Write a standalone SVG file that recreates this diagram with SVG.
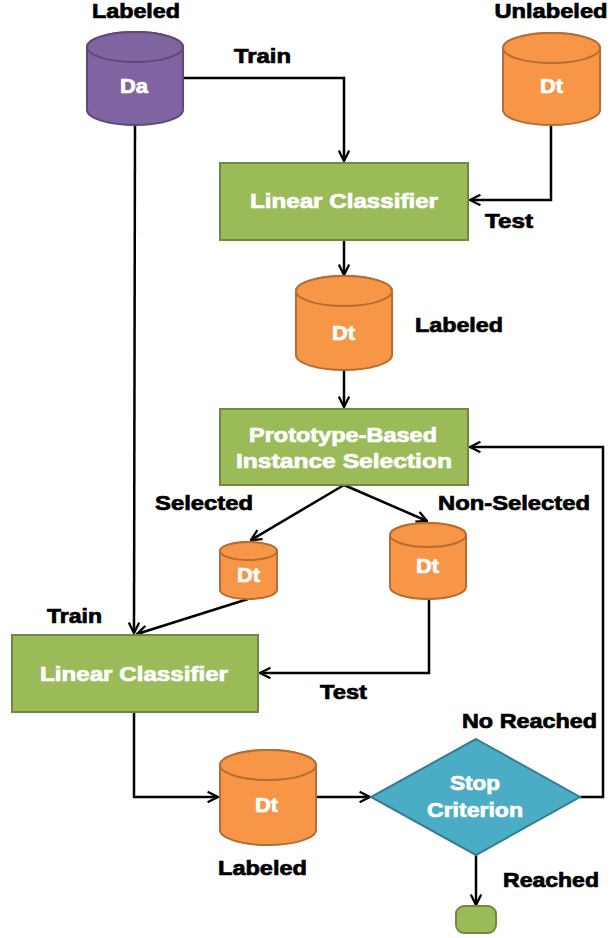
<svg xmlns="http://www.w3.org/2000/svg" width="610" height="938" viewBox="0 0 610 938">
<style>
text{font-family:"Liberation Sans",Arial,sans-serif;font-weight:bold;font-size:20px;text-anchor:middle;stroke-width:0.7px}
.lbl{fill:#000;stroke:#000}
.w{fill:#fff;stroke:#fff}
.or{fill:#F79646;stroke:#B66D31;stroke-width:2}
.pu{fill:#8064A2;stroke:#5C4A7A;stroke-width:2}
.gr{fill:#9BBB59;stroke:#71893F;stroke-width:2}
.te{fill:#4BACC6;stroke:#357D91;stroke-width:2}
.c{fill:none;stroke:#000;stroke-width:2.5;marker-end:url(#ar)}
</style>
<defs>
<marker id="ar" viewBox="0 0 12 12" refX="11" refY="6" markerWidth="5" markerHeight="5" markerUnits="strokeWidth" orient="auto">
<path d="M1,1 L11,6 L1,11" fill="none" stroke="#000" stroke-width="2.2"/>
</marker>
</defs>
<g id="connectors">
<polyline class="c" points="183,78 344,78 344,161"/>
<polyline class="c" points="551,125 551,200 470,200"/>
<line class="c" x1="344" y1="240" x2="344" y2="275"/>
<line class="c" x1="344" y1="370" x2="344" y2="407"/>
<line class="c" x1="344" y1="485" x2="251" y2="540"/>
<line class="c" x1="344" y1="485" x2="427" y2="521"/>
<line class="c" x1="135" y1="125" x2="134" y2="633"/>
<line class="c" x1="248" y1="599" x2="137" y2="634"/>
<polyline class="c" points="429,599 429,673 260,673"/>
<polyline class="c" points="134,712 134,797 218,797"/>
<line class="c" x1="316" y1="797" x2="370" y2="797"/>
<polyline class="c" points="580,797 603,797 603,447 470,447"/>
<line class="c" x1="476" y1="855" x2="476" y2="905"/>
</g>
<g id="da">
<path class="pu" d="M87,47 A48,15 0 0 1 183,47 V110 A48,15 0 0 1 87,110 Z"/>
<ellipse class="pu" cx="135" cy="47" rx="48" ry="15"/>
<text class="w" x="134" y="93" textLength="28" lengthAdjust="spacingAndGlyphs">Da</text>
<text class="lbl" x="136" y="18" textLength="88" lengthAdjust="spacingAndGlyphs">Labeled</text>
</g>
<g id="dt-unlabeled">
<path class="or" d="M503,48 A48.5,15 0 0 1 600,48 V110 A48.5,15 0 0 1 503,110 Z"/>
<ellipse class="or" cx="551.5" cy="48" rx="48.5" ry="15"/>
<text class="w" x="551.5" y="93" textLength="23" lengthAdjust="spacingAndGlyphs">Dt</text>
<text class="lbl" x="551" y="18" textLength="113" lengthAdjust="spacingAndGlyphs">Unlabeled</text>
</g>
<g id="lc1">
<rect class="gr" x="220" y="163" width="248" height="77"/>
<text class="w" x="344" y="208" textLength="188" lengthAdjust="spacingAndGlyphs">Linear Classifier</text>
</g>
<g id="dt-labeled">
<path class="or" d="M296,291 A48,15 0 0 1 392,291 V355 A48,15 0 0 1 296,355 Z"/>
<ellipse class="or" cx="344" cy="291" rx="48" ry="15"/>
<text class="w" x="343.5" y="340" textLength="23" lengthAdjust="spacingAndGlyphs">Dt</text>
<text class="lbl" x="459" y="332" textLength="88" lengthAdjust="spacingAndGlyphs">Labeled</text>
</g>
<g id="pbis">
<rect class="gr" x="220" y="409" width="248" height="76"/>
<text class="w" x="343" y="442" textLength="188" lengthAdjust="spacingAndGlyphs">Prototype-Based</text>
<text class="w" x="344" y="468" textLength="216" lengthAdjust="spacingAndGlyphs">Instance Selection</text>
</g>
<g id="dt-selected">
<path class="or" d="M220,551 A28.5,9 0 0 1 277,551 V590 A28.5,9 0 0 1 220,590 Z"/>
<ellipse class="or" cx="248.5" cy="551" rx="28.5" ry="9"/>
<text class="w" x="248.5" y="582" textLength="23" lengthAdjust="spacingAndGlyphs">Dt</text>
</g>
<g id="dt-nonselected">
<path class="or" d="M390,535 A38,12 0 0 1 466,535 V587 A38,12 0 0 1 390,587 Z"/>
<ellipse class="or" cx="428" cy="535" rx="38" ry="12"/>
<text class="w" x="427.5" y="573" textLength="23" lengthAdjust="spacingAndGlyphs">Dt</text>
</g>
<g id="lc2">
<rect class="gr" x="12" y="635" width="246" height="77"/>
<text class="w" x="134" y="681" textLength="188" lengthAdjust="spacingAndGlyphs">Linear Classifier</text>
</g>
<g id="dt-final">
<path class="or" d="M220,765 A48,15 0 0 1 316,765 V830 A48,15 0 0 1 220,830 Z"/>
<ellipse class="or" cx="268" cy="765" rx="48" ry="15"/>
<text class="w" x="266.5" y="812" textLength="23" lengthAdjust="spacingAndGlyphs">Dt</text>
<text class="lbl" x="262.5" y="875" textLength="89" lengthAdjust="spacingAndGlyphs">Labeled</text>
</g>
<g id="stop">
<polygon class="te" points="476,739 580,797 476,855 371,797"/>
<text class="w" x="475" y="790" textLength="50" lengthAdjust="spacingAndGlyphs">Stop</text>
<text class="w" x="475" y="817" textLength="96" lengthAdjust="spacingAndGlyphs">Criterion</text>
</g>
<g id="end">
<rect class="gr" x="456" y="906" width="40" height="27" rx="8"/>
</g>
<g id="labels">
<text class="lbl" x="262.5" y="63" textLength="57" lengthAdjust="spacingAndGlyphs">Train</text>
<text class="lbl" x="509" y="228" textLength="48" lengthAdjust="spacingAndGlyphs">Test</text>
<text class="lbl" x="204" y="510" textLength="98" lengthAdjust="spacingAndGlyphs">Selected</text>
<text class="lbl" x="514" y="510" textLength="152" lengthAdjust="spacingAndGlyphs">Non-Selected</text>
<text class="lbl" x="74.5" y="623" textLength="55" lengthAdjust="spacingAndGlyphs">Train</text>
<text class="lbl" x="343.5" y="699" textLength="47" lengthAdjust="spacingAndGlyphs">Test</text>
<text class="lbl" x="529.5" y="728" textLength="135" lengthAdjust="spacingAndGlyphs">No Reached</text>
<text class="lbl" x="551" y="887" textLength="96" lengthAdjust="spacingAndGlyphs">Reached</text>
</g>
</svg>
